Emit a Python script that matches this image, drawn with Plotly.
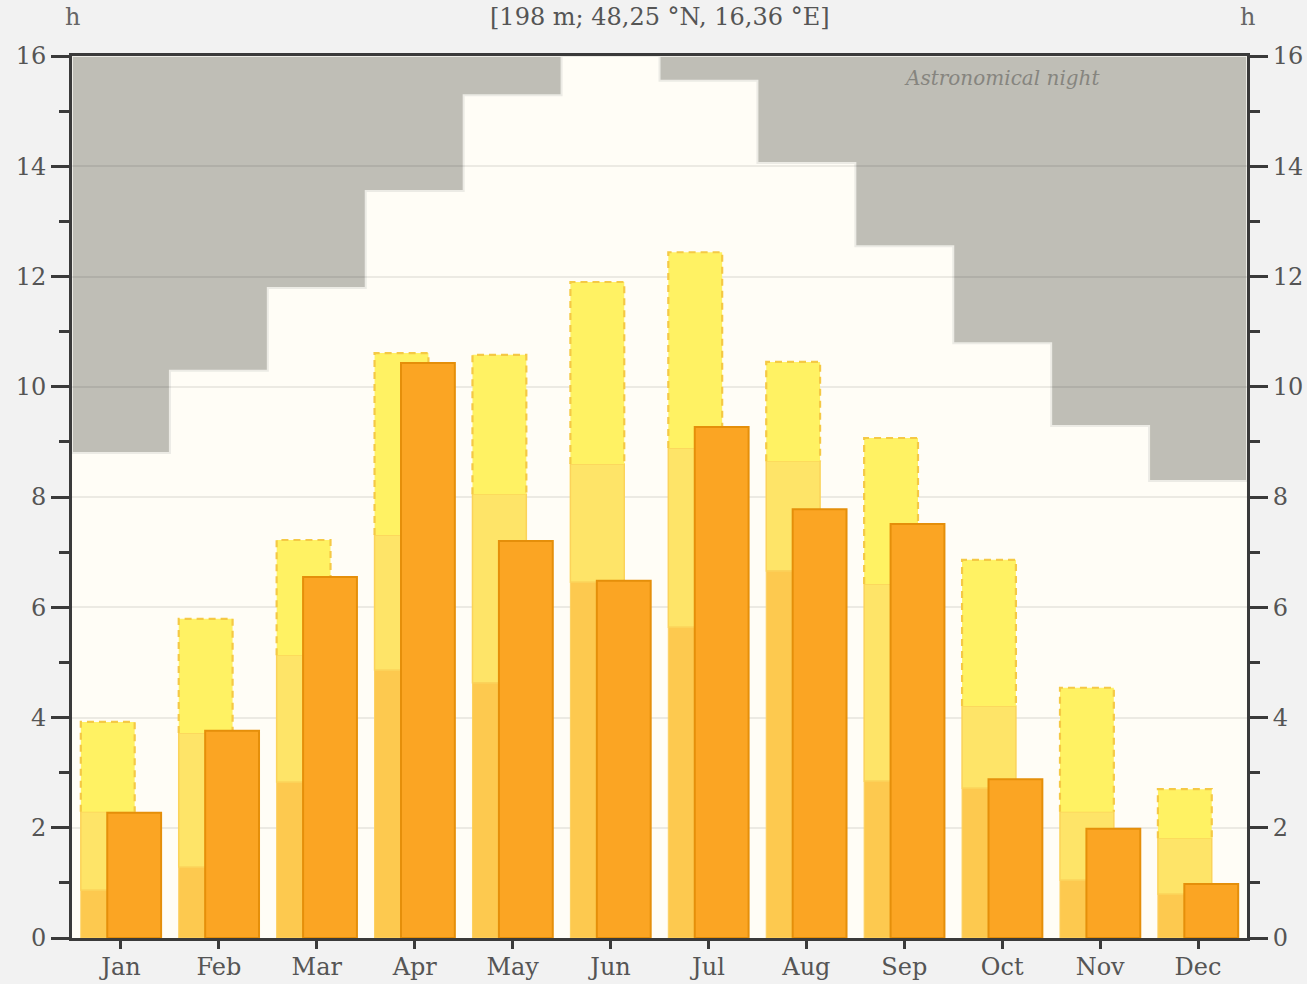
import plotly.graph_objects as go

months = ['Jan', 'Feb', 'Mar', 'Apr', 'May', 'Jun', 'Jul', 'Aug', 'Sep', 'Oct', 'Nov', 'Dec']

# astronomical night starts at this many hours (gray area above it up to 16 h)
night_start = [8.80, 10.29, 11.79, 13.55, 15.29, 16.0, 15.55, 14.06, 12.55, 10.79, 9.29, 8.29]

# back bars: three cumulative levels
back_low = [0.87, 1.29, 2.83, 4.86, 4.63, 6.46, 5.64, 6.66, 2.85, 2.72, 1.05, 0.80]
back_mid = [2.29, 3.72, 5.13, 7.31, 8.05, 8.60, 8.89, 8.65, 6.42, 4.21, 2.29, 1.81]
back_top = [3.92, 5.79, 7.22, 10.61, 10.58, 11.90, 12.44, 10.45, 9.07, 6.86, 4.54, 2.70]

# front bars (actual sunshine hours)
front = [2.27, 3.76, 6.55, 10.43, 7.20, 6.48, 9.27, 7.78, 7.51, 2.88, 1.98, 0.98]

y_ticks = [0, 2, 4, 6, 8, 10, 12, 14, 16]

FONT = 'DejaVu Serif'
BAR_W = 0.55
BACK_OFF = -0.41
FRONT_OFF = -0.14
AXIS_COL = '#3a3a3a'
x = list(range(len(months)))

fig = go.Figure()

# back bars, stacked by hand
fig.add_trace(go.Bar(x=x, y=back_low, base=[0] * 12, width=BAR_W, offset=BACK_OFF,
                     marker=dict(color='#fdc94f', line=dict(color='#fcd060', width=1)),
                     showlegend=False, hoverinfo='skip'))
fig.add_trace(go.Bar(x=x, y=[m - l for m, l in zip(back_mid, back_low)], base=back_low,
                     width=BAR_W, offset=BACK_OFF,
                     marker=dict(color='#fee468', line=dict(color='#fbd35a', width=1.5)),
                     showlegend=False, hoverinfo='skip'))
fig.add_trace(go.Bar(x=x, y=[t - m for t, m in zip(back_top, back_mid)], base=back_mid,
                     width=BAR_W, offset=BACK_OFF,
                     marker=dict(color='#fff263', line=dict(width=0)),
                     showlegend=False, hoverinfo='skip'))

# dashed outline around the top layer of the back bars
ox, oy = [], []
for i in x:
    left = i + BACK_OFF
    right = i + BACK_OFF + BAR_W
    ox += [left, left, right, right, None]
    oy += [back_mid[i], back_top[i], back_top[i], back_mid[i], None]
fig.add_trace(go.Scatter(x=ox, y=oy, mode='lines',
                         line=dict(color='#f5c945', width=2.2, dash='7px,5px'),
                         showlegend=False, hoverinfo='skip'))

# front bars on an overlaid subplot so they sit on top
fig.add_trace(go.Bar(x=x, y=front, width=BAR_W, offset=FRONT_OFF,
                     marker=dict(color='#fba523', line=dict(color='#e58f0a', width=2)),
                     xaxis='x2', yaxis='y2', showlegend=False, hoverinfo='skip'))

# night area as a step path below the gridlines
path = 'M -0.5,16 '
for i, v in enumerate(night_start):
    path += f'L {i - 0.5},{v} L {i + 0.5},{v} '
path += 'L 11.5,16 Z'
fig.add_shape(type='path', path=path, xref='x', yref='y', layer='below',
              fillcolor='#bfbeb6', line=dict(color='#ecebe5', width=2))

fig.add_annotation(x=9.0, y=15.6, xref='x', yref='y', text='Astronomical night',
                   showarrow=False, font=dict(family=FONT, size=20, color='#86857f', style='italic'))

fig.add_annotation(x=0.5, y=1.044, xref='paper', yref='paper', xanchor='center', yanchor='middle',
                   text='[198 m; 48,25 °N, 16,36 °E]', showarrow=False,
                   font=dict(family=FONT, size=24, color='#555555'))
for px in [0, 1]:
    fig.add_annotation(x=px, y=1.044, xref='paper', yref='paper', xanchor='center',
                       yanchor='middle', text='h', showarrow=False,
                       font=dict(family=FONT, size=24, color='#666666'))

tick_font = dict(family=FONT, size=24, color='#555555')
yax = dict(range=[0, 16], tickvals=y_ticks, ticks='outside', ticklen=18, tickwidth=2.5,
           tickcolor=AXIS_COL, showline=True, linecolor=AXIS_COL, linewidth=3,
           tickfont=tick_font, fixedrange=True, zeroline=False,
           minor=dict(dtick=1, ticks='outside', ticklen=10, tickwidth=2.5,
                      tickcolor=AXIS_COL, showgrid=False))

fig.update_layout(
    width=1307, height=984,
    margin=dict(l=72, r=60, t=56, b=46),
    paper_bgcolor='#f2f2f2', plot_bgcolor='#fffdf6',
    barmode='overlay',
    xaxis=dict(range=[-0.5, 11.5], tickvals=x, ticktext=months, ticks='outside', ticklen=8,
               tickwidth=2.5, tickcolor=AXIS_COL, showline=True, linecolor=AXIS_COL,
               linewidth=3, mirror=True, showgrid=False, zeroline=False, tickfont=tick_font,
               ticklabelstandoff=-3, fixedrange=True, automargin=False),
    xaxis2=dict(range=[-0.5, 11.5], overlaying='x', visible=False, fixedrange=True),
    yaxis=dict(**yax, side='left', showgrid=True, gridcolor='rgba(0,0,0,0.075)',
               gridwidth=1.5, automargin=False),
    yaxis2=dict(**yax, side='right', overlaying='y', showgrid=False, automargin=False),
)

fig.write_html('out.html', config={'displayModeBar': False},
               post_script="document.body.style.margin='0px';")
